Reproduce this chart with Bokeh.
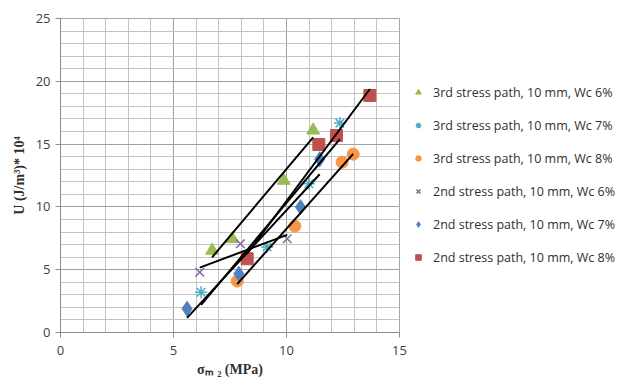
import numpy as np
from bokeh.plotting import figure
from bokeh.models import Range1d, SingleIntervalTicker, Legend, LegendItem
from bokeh.embed import file_html
from bokeh.resources import INLINE

# ---- data ----
labels = [
    "3rd stress path, 10 mm, Wc 6%",
    "3rd stress path, 10 mm, Wc 7%",
    "3rd stress path, 10 mm, Wc 8%",
    "2nd stress path, 10 mm, Wc 6%",
    "2nd stress path, 10 mm, Wc 7%",
    "2nd stress path, 10 mm, Wc 8%",
]
x_3rd_6 = [6.71, 7.60, 9.88, 11.18]
y_3rd_6 = [6.53, 7.46, 12.10, 16.10]
x_3rd_7 = [6.22, 9.14, 10.99, 12.36]
y_3rd_7 = [3.21, 6.80, 11.84, 16.67]
x_3rd_8 = [7.82, 10.37, 12.46, 12.95]
y_3rd_8 = [4.09, 8.47, 13.56, 14.20]
x_2nd_6 = [6.16, 7.96, 10.03]
y_2nd_6 = [4.80, 7.06, 7.46]
x_2nd_7 = [5.60, 7.89, 10.62, 11.47]
y_2nd_7 = [1.89, 4.67, 9.98, 13.80]
x_2nd_8 = [8.26, 11.43, 12.21, 13.69]
y_2nd_8 = [5.87, 14.97, 15.68, 18.87]
x_ticks = [0, 5, 10, 15]
y_ticks = [0, 5, 10, 15, 20, 25]

series = [
    (x_3rd_6, y_3rd_6, "triangle", "#9BBB59", 13),
    (x_3rd_7, y_3rd_7, "asterisk", "#4BACC6", 12),
    (x_3rd_8, y_3rd_8, "circle", "#F79646", 12),
    (x_2nd_6, y_2nd_6, "x", "#8064A2", 12),
    (x_2nd_7, y_2nd_7, "diamond", "#4F81BD", 15),
    (x_2nd_8, y_2nd_8, "square", "#C0504D", 12),
]

p = figure(output_backend="svg", toolbar_location=None,
           x_range=Range1d(0, 15), y_range=Range1d(0, 25),
           frame_width=339, frame_height=314,
           min_border_left=60, min_border_top=18, min_border_bottom=46, min_border_right=0)
p.background_fill_color = "white"
p.border_fill_color = "white"
p.outline_line_color = "#a6a6a6"

xt = SingleIntervalTicker(interval=5, num_minor_ticks=5)
yt = SingleIntervalTicker(interval=5, num_minor_ticks=5)
p.xaxis.ticker = xt
p.yaxis.ticker = yt
p.xgrid.ticker = xt
p.ygrid.ticker = yt
for g in (p.xgrid, p.ygrid):
    g.grid_line_color = "#a0a0a0"
    g.grid_line_width = 1
    g.minor_grid_line_color = "#c4c4c4"
    g.minor_grid_line_width = 1

for ax in (p.xaxis, p.yaxis):
    ax.axis_line_color = "#8c8c8c"
    ax.major_tick_line_color = "#8c8c8c"
    ax.major_tick_out = 5
    ax.major_tick_in = 0
    ax.minor_tick_line_color = None
    ax.major_label_text_font = "Open Sans"
    ax.major_label_text_font_size = "13px"
    ax.major_label_text_color = "#404040"
    ax.axis_label_text_font = "Liberation Serif"
    ax.axis_label_text_font_style = "bold"
    ax.axis_label_text_font_size = "14px"
    ax.axis_label_text_color = "#303030"

p.xaxis.axis_label = "σₘ ₂ (MPa)"
p.yaxis.axis_label = "U (J/m³)* 10⁴"
p.xaxis.axis_label_standoff = 4
p.xaxis.major_label_standoff = 8
p.yaxis.axis_label_standoff = 6

items = []
for (xs, ys, marker, color, size), lab in zip(series, labels):
    if marker in ("x", "asterisk"):
        r = p.scatter(xs, ys, marker=marker, size=size, line_color=color, line_width=1.5)
    else:
        r = p.scatter(xs, ys, marker=marker, size=size, fill_color=color, line_color=color)
    items.append(LegendItem(label=lab, renderers=[r]))

for (xs, ys, marker, color, size) in series:
    xs_a = np.array(xs)
    ys_a = np.array(ys)
    k, b = np.polyfit(xs_a, ys_a, 1)
    lx = [float(xs_a.min()), float(xs_a.max())]
    ly = [k * lx[0] + b, k * lx[1] + b]
    p.line(lx, ly, line_color="black", line_width=2)

legend = Legend(items=items, location=(12, 65))
legend.border_line_color = None
legend.background_fill_alpha = 0
legend.label_text_font = "Open Sans"
legend.label_text_font_size = "12.5px"
legend.label_text_color = "#303030"
legend.spacing = 13
legend.glyph_width = 14
legend.glyph_height = 20
legend.label_height = 20
legend.label_standoff = 8
legend.padding = 6
legend.margin = 6
p.add_layout(legend, "right")

open("out.html", "w").write(file_html(p, INLINE))
